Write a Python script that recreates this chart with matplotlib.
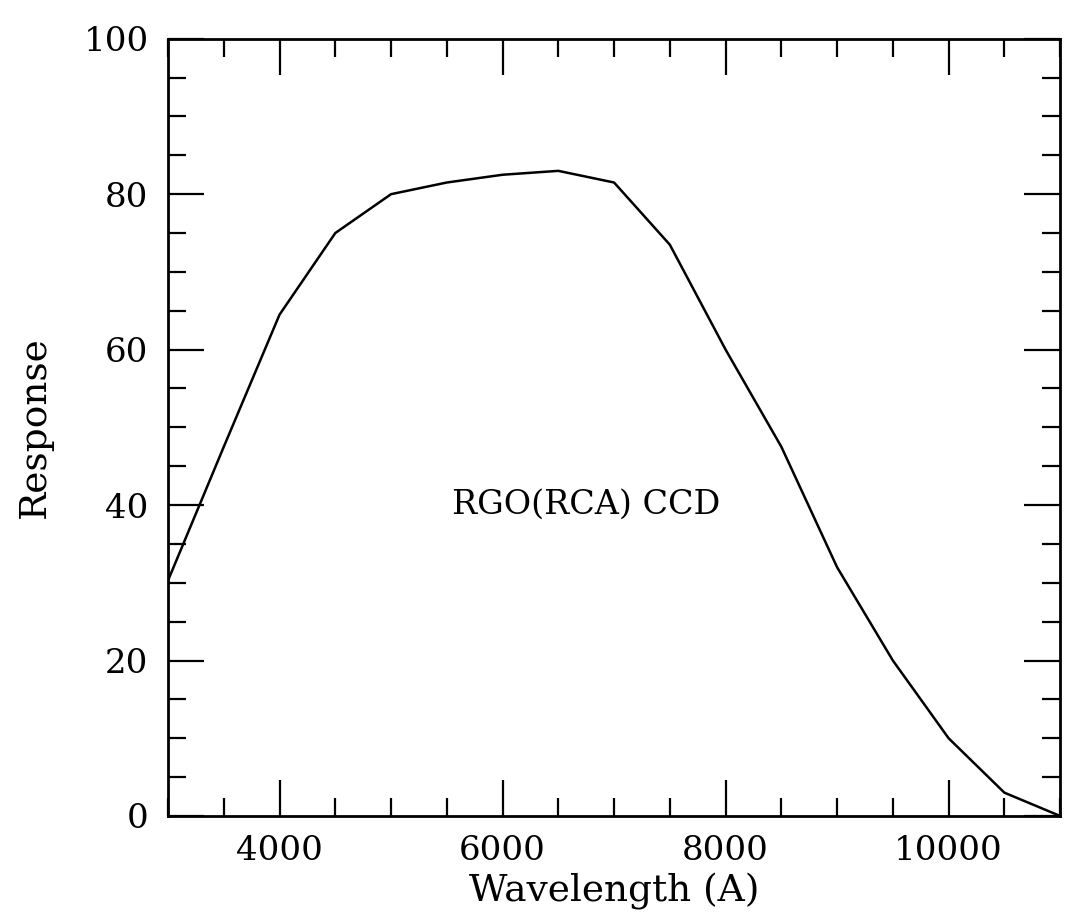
import matplotlib
matplotlib.use("Agg")
import matplotlib.pyplot as plt
from matplotlib.ticker import MultipleLocator

wavelength = [3000, 3500, 4000, 4500, 5000, 5500, 6000, 6500, 7000,
              7500, 8000, 8500, 9000, 9500, 10000, 10500, 11000]
response = [30.3, 47.5, 64.5, 75.0, 80.0, 81.5, 82.5, 83.0, 81.5,
            73.5, 60.0, 47.5, 32.0, 20.0, 10.0, 3.0, 0.0]

label_text = "RGO(RCA) CCD"
x_label = "Wavelength (A)"
y_label = "Response"

plt.rcParams['font.family'] = ['DejaVu Serif']

fig = plt.figure(figsize=(10.73, 9.22), dpi=100)
ax = fig.add_axes([0.1566, 0.115, 0.8314, 0.843])

ax.plot(wavelength, response, color='black', linewidth=1.8)

ax.set_xlim(3000, 11000)
ax.set_ylim(0, 100)
ax.xaxis.set_major_locator(MultipleLocator(2000))
ax.xaxis.set_minor_locator(MultipleLocator(500))
ax.yaxis.set_major_locator(MultipleLocator(20))
ax.yaxis.set_minor_locator(MultipleLocator(5))

ax.tick_params(which='both', direction='in', top=True, right=True,
               width=1.6, colors='black', labelsize=24.5)
ax.tick_params(which='major', length=26, pad=14)
ax.tick_params(which='minor', length=13)

for s in ax.spines.values():
    s.set_linewidth(2.0)

ax.set_xlabel(x_label, fontsize=27, labelpad=4)
ax.set_ylabel(y_label, fontsize=27, labelpad=22)

ax.text(6750, 40, label_text, fontsize=24, ha='center', va='center')

fig.savefig("out.png", dpi=100, facecolor='white')
